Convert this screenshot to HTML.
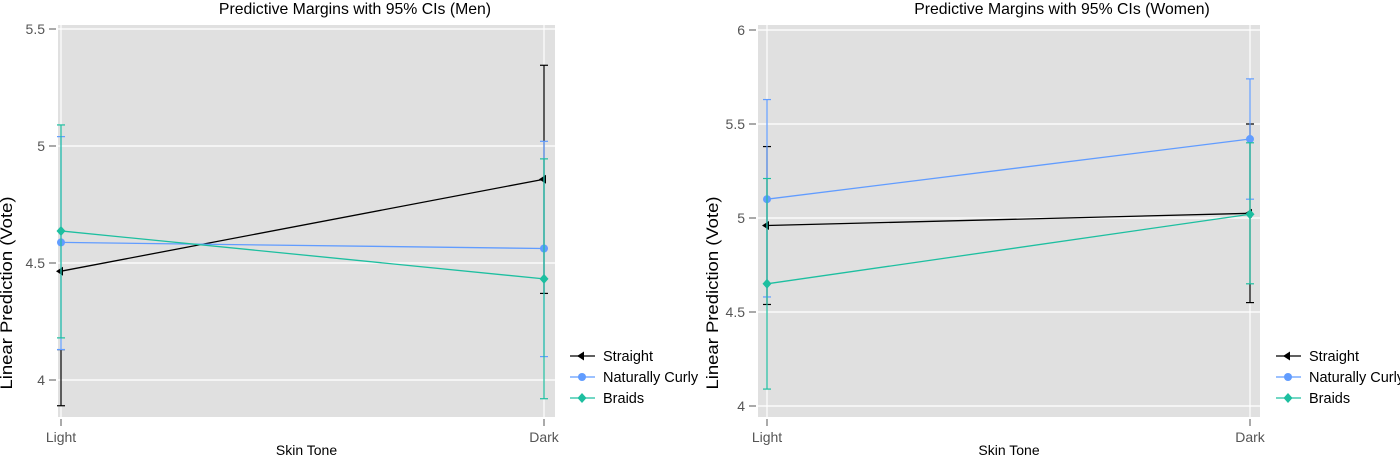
<!DOCTYPE html>
<html><head><meta charset="utf-8"><style>
html,body{margin:0;padding:0;background:#fff;}
svg{display:block;font-family:"Liberation Sans",sans-serif;}
</style></head><body>
<svg id="chart" width="1400" height="455"></svg>
<script>
const categories = ["Light","Dark"];
const seriesNames = ["Straight","Naturally Curly","Braids"];
const menMean = [[4.465,4.858],[4.588,4.562],[4.637,4.432]];
const menLow  = [[3.89,4.37],[4.13,4.10],[4.18,3.92]];
const menHigh = [[4.13,5.345],[5.04,5.02],[5.09,4.945]];
const womenMean = [[4.96,5.025],[5.10,5.42],[4.65,5.02]];
const womenLow  = [[4.54,4.55],[4.58,5.10],[4.09,4.65]];
const womenHigh = [[5.38,5.50],[5.63,5.74],[5.21,5.40]];
const menTicks = [4,4.5,5,5.5];
const womenTicks = [4,4.5,5,5.5,6];

const NS="http://www.w3.org/2000/svg";
const svg=document.getElementById('chart');
const colors=["#000000","#619CFF","#1DBFA0"];
function mk(tag,attrs,parent){const e=document.createElementNS(NS,tag);for(const k in attrs)e.setAttribute(k,attrs[k]);(parent||svg).appendChild(e);return e;}

function panel(cfg){
  const g=mk('g',{});
  
  
  const y=v=>cfg.y0+(v-cfg.v0)*(cfg.y1-cfg.y0)/(cfg.v1-cfg.v0);
  const x=i=>cfg.xL+i*(cfg.xR-cfg.xL)/(categories.length-1);
  const bg=mk('rect',{x:cfg.px0,y:25,width:cfg.px1-cfg.px0,height:392,fill:'#e0e0e0'},g);
  
  
  cfg.ticks.forEach(t=>{
    mk('line',{x1:cfg.px0,x2:cfg.px1,y1:y(t),y2:y(t),stroke:'#fff','stroke-width':1.2},g);
    mk('line',{x1:cfg.px0-9,x2:cfg.px0-2,y1:y(t),y2:y(t),stroke:'#555'},g);
    const tl=mk('text',{x:cfg.px0-13,y:y(t)+5,'text-anchor':'end','font-size':14,fill:'#555'},g);
    tl.textContent=String(t);
    
    
  });
  categories.forEach((c,i)=>{
    mk('line',{x1:x(i),x2:x(i),y1:25,y2:417,stroke:'#fff','stroke-width':1.2},g);
    mk('line',{x1:x(i),x2:x(i),y1:419,y2:426,stroke:'#555'},g);
    const tl=mk('text',{x:x(i),y:442,'text-anchor':'middle','font-size':14,fill:'#555'},g);
    tl.textContent=c;
    
    
  });
  seriesNames.forEach((s,k)=>{
    const sg=mk('g',{},g);
    
    
    categories.forEach((c,i)=>{
      const lo=y(cfg.low[k][i]),hi=y(cfg.high[k][i]);
      mk('line',{x1:x(i),x2:x(i),y1:lo,y2:hi,stroke:colors[k],'stroke-width':1.2},sg);
      mk('line',{x1:x(i)-4,x2:x(i)+4,y1:lo,y2:lo,stroke:colors[k],'stroke-width':1.2},sg);
      mk('line',{x1:x(i)-4,x2:x(i)+4,y1:hi,y2:hi,stroke:colors[k],'stroke-width':1.2},sg);
    });
    const pts=categories.map((c,i)=>x(i)+','+y(cfg.mean[k][i])).join(' ');
    mk('polyline',{points:pts,fill:'none',stroke:colors[k],'stroke-width':1.3},sg);
    categories.forEach((c,i)=>marker(sg,k,x(i),y(cfg.mean[k][i])));
  });
  const t=mk('text',{x:cfg.tx,y:14,'text-anchor':'middle','font-size':15.8,fill:'#000'},g);
  t.textContent=cfg.title;
  
  
  const xt=mk('text',{x:(cfg.px0+cfg.px1)/2,y:455,'text-anchor':'middle','font-size':14,fill:'#000'},g);
  xt.textContent='Skin Tone';
  
  
  const yt=mk('text',{x:0,y:0,'text-anchor':'middle','font-size':17,fill:'#000',textLength:193,lengthAdjust:'spacingAndGlyphs',transform:`translate(${cfg.ytx},293) rotate(-90)`},g);
  yt.textContent='Linear Prediction (Vote)';
  
  
  seriesNames.forEach((s,k)=>{
    const ly=356+k*21;
    const lg=mk('g',{},g);
    
    
    mk('line',{x1:cfg.lx,x2:cfg.lx+25,y1:ly,y2:ly,stroke:colors[k],'stroke-width':1.3},lg);
    marker(lg,k,cfg.lx+12,ly);
    const lt=mk('text',{x:cfg.lx+33,y:ly+5,'font-size':14.5,fill:'#000'},lg);
    lt.textContent=s;
  });
}
function marker(g,k,cx,cy){
  if(k===0) mk('polygon',{points:`${cx-5},${cy} ${cx+2},${cy-4.5} ${cx+2},${cy+4.5}`,fill:colors[k]},g);
  else if(k===1) mk('circle',{cx:cx,cy:cy,r:4,fill:colors[k]},g);
  else mk('polygon',{points:`${cx},${cy-5} ${cx+4.5},${cy} ${cx},${cy+5} ${cx-4.5},${cy}`,fill:colors[k]},g);
}
panel({name:'men-panel',title:'Predictive Margins with 95% CIs (Men)',tx:355,px0:58,px1:555,xL:61,xR:544,v0:4,v1:5.5,y0:380,y1:29,ticks:menTicks,mean:menMean,low:menLow,high:menHigh,lx:570,ytx:12});
panel({name:'women-panel',title:'Predictive Margins with 95% CIs (Women)',tx:1062,px0:758,px1:1260,xL:767,xR:1250,v0:4,v1:6,y0:406,y1:30,ticks:womenTicks,mean:womenMean,low:womenLow,high:womenHigh,lx:1276,ytx:718});
</script>
</body></html>
